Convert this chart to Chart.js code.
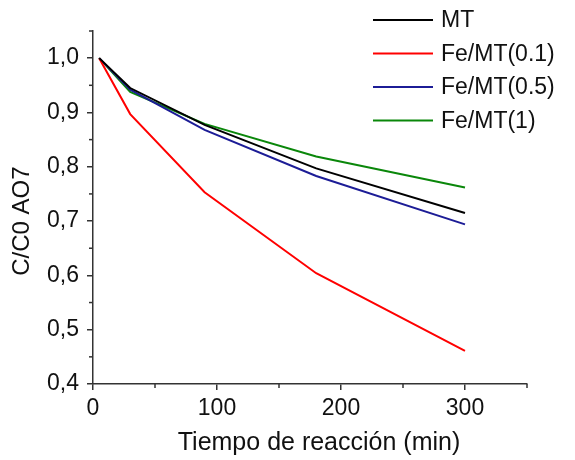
<!DOCTYPE html>
<html>
<head>
<meta charset="utf-8">
<script src="https://cdn.jsdelivr.net/npm/chart.js@4.4.1/dist/chart.umd.min.js"></script>
<style>
    html, body { margin: 0; padding: 0; background: #fff; }
    #wrap { width: 575px; height: 460px; }
</style>
</head>
<body>
<div id="wrap"><canvas id="line-chart" width="575" height="460"></canvas></div>
<script>
const timeMin = [5, 30, 90, 180, 300];
const mtValues = [1.0, 0.945, 0.877, 0.797, 0.715];
const fe01Values = [1.0, 0.897, 0.753, 0.604, 0.461];
const fe05Values = [1.0, 0.942, 0.868, 0.783, 0.694];
const fe1Values = [1.0, 0.938, 0.879, 0.819, 0.762];
const seriesNames = ['MT', 'Fe/MT(0.1)', 'Fe/MT(0.5)', 'Fe/MT(1)'];
const xTicks = [0, 100, 200, 300];
const xMinorTicks = [50, 150, 250, 350];
const yTicks = [0.4, 0.5, 0.6, 0.7, 0.8, 0.9, 1.0];
const yMinorTicks = [0.45, 0.55, 0.65, 0.75, 0.85, 0.95, 1.05];

const FONT = '"Liberation Sans", Arial, sans-serif';
const AXIS_COLOR = '#333';

function toPoints(values) {
    return values.map((v, i) => ({ x: timeMin[i], y: v }));
}

// ticks menores + titulos de ejes + leyenda
const extrasPlugin = {
    id: 'extras',
    afterDraw(chart) {
        const ctx = chart.ctx;
        const xs = chart.scales.x;
        const ys = chart.scales.y;
        const area = chart.chartArea;
        ctx.save();
        ctx.strokeStyle = AXIS_COLOR;
        ctx.lineWidth = 1.5;
        xMinorTicks.forEach(v => {
            const px = xs.getPixelForValue(v);
            ctx.beginPath();
            ctx.moveTo(px, area.bottom);
            ctx.lineTo(px, area.bottom + 4);
            ctx.stroke();
        });
        yMinorTicks.forEach(v => {
            const py = ys.getPixelForValue(v);
            ctx.beginPath();
            ctx.moveTo(area.left, py);
            ctx.lineTo(area.left - 4, py);
            ctx.stroke();
        });

        ctx.fillStyle = '#111';
        ctx.font = '25px ' + FONT;
        ctx.textAlign = 'center';
        ctx.textBaseline = 'middle';
        ctx.fillText('Tiempo de reacción (min)', (area.left + area.right) / 2 + 9, 443);

        ctx.font = '24px ' + FONT;
        ctx.save();
        ctx.translate(22, ys.getPixelForValue(0.7));
        ctx.rotate(-Math.PI / 2);
        ctx.fillText('C/C0 AO7', 0, 0);
        ctx.restore();

        // leyenda
        ctx.font = '23px ' + FONT;
        ctx.textAlign = 'left';
        chart.data.datasets.forEach((ds, i) => {
            const y = 20 + i * 33.5;
            ctx.strokeStyle = ds.borderColor;
            ctx.lineWidth = 2;
            ctx.beginPath();
            ctx.moveTo(373, y);
            ctx.lineTo(433, y);
            ctx.stroke();
            ctx.fillStyle = '#111';
            ctx.fillText(ds.label, 441, y + 1);
        });
        ctx.restore();
    }
};

function linechart() {
    new Chart(document.getElementById('line-chart'), {
        type: 'line',
        data: {
            datasets: [
                { label: seriesNames[0], data: toPoints(mtValues), borderColor: '#000000' },
                { label: seriesNames[1], data: toPoints(fe01Values), borderColor: '#ff0000' },
                { label: seriesNames[2], data: toPoints(fe05Values), borderColor: '#1c1c96' },
                { label: seriesNames[3], data: toPoints(fe1Values), borderColor: '#0a870a' }
            ].map(d => Object.assign(d, {
                fill: false,
                borderWidth: 2,
                pointRadius: 0,
                tension: 0
            }))
        },
        options: {
            responsive: false,
            animation: false,
            layout: { padding: { top: 31, right: 48, left: 0, bottom: 0 } },
            plugins: {
                legend: { display: false },
                tooltip: { enabled: false }
            },
            scales: {
                x: {
                    type: 'linear',
                    min: 0,
                    max: 350,
                    afterBuildTicks: s => { s.ticks = xTicks.map(v => ({ value: v })); },
                    afterFit: s => { s.height = 76; },
                    border: { display: true, color: AXIS_COLOR, width: 1.5 },
                    grid: { drawOnChartArea: false, drawTicks: true, tickLength: 6, color: AXIS_COLOR, lineWidth: 1.5 },
                    ticks: { color: '#111', font: { family: FONT, size: 23 }, padding: 5, maxRotation: 0 }
                },
                y: {
                    type: 'linear',
                    min: 0.4,
                    max: 1.05,
                    afterBuildTicks: s => { s.ticks = yTicks.map(v => ({ value: v })); },
                    afterFit: s => { s.width = 93; },
                    border: { display: true, color: AXIS_COLOR, width: 1.5 },
                    grid: { drawOnChartArea: false, drawTicks: true, tickLength: 6, color: AXIS_COLOR, lineWidth: 1.5 },
                    ticks: {
                        color: '#111',
                        font: { family: FONT, size: 23 },
                        padding: 8,
                        callback: v => v.toFixed(1).replace('.', ',')
                    }
                }
            }
        },
        plugins: [extrasPlugin]
    });
}

linechart();
</script>
</body>
</html>
